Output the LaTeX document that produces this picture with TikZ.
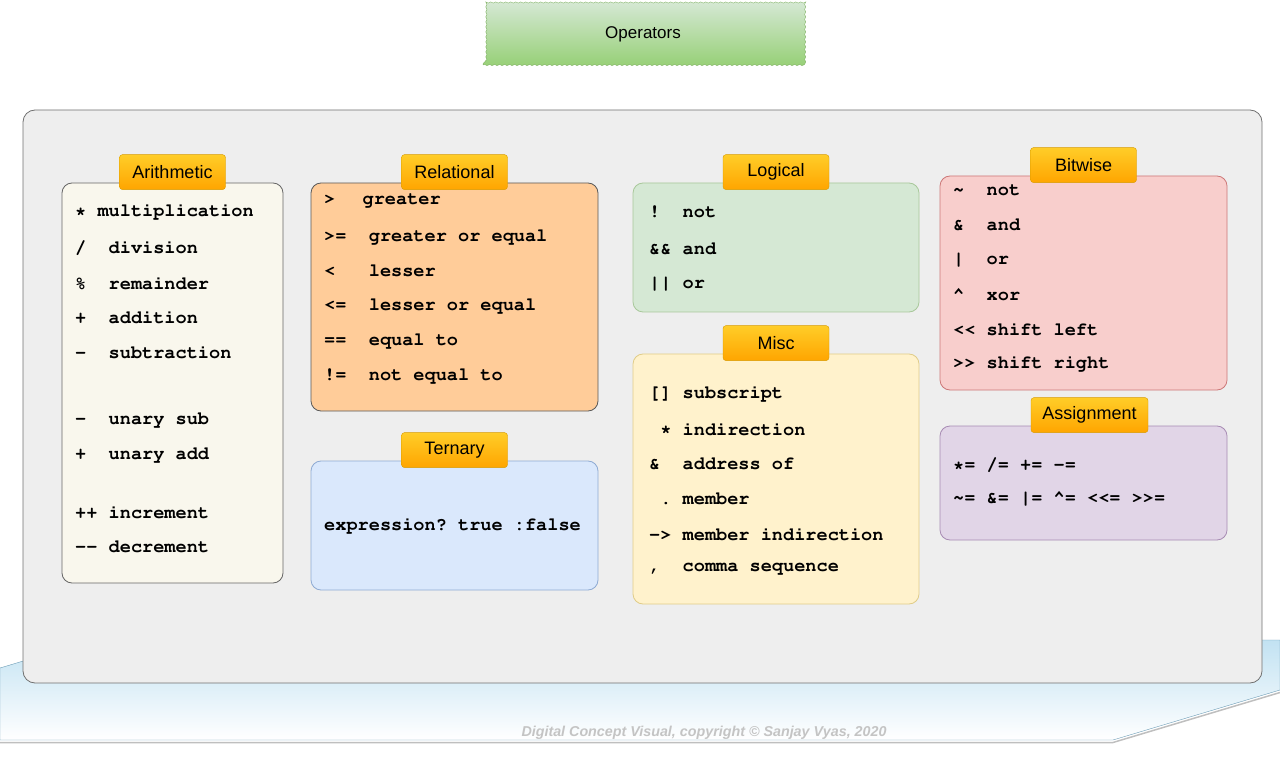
\documentclass[tikz,border=0pt]{standalone}
\usepackage[T1]{fontenc}
\usepackage{fontspec}
\setmainfont{Liberation Sans}
\usetikzlibrary{decorations.pathmorphing}

\definecolor{framefill}{HTML}{EEEEEE}
\definecolor{frameline}{HTML}{707070}
\definecolor{basetop}{HTML}{C2E2F2}
\definecolor{baseline}{HTML}{6A9BB5}
\definecolor{titletop}{HTML}{D5E8D4}
\definecolor{titlebot}{HTML}{97D077}
\definecolor{titleline}{HTML}{82B366}
\definecolor{tagtop}{HTML}{FFCD28}
\definecolor{tagbot}{HTML}{FFA500}
\definecolor{tagline}{HTML}{D79B00}
\definecolor{footgray}{HTML}{C4C4C4}
\definecolor{arithfill}{HTML}{F9F7ED}
\definecolor{relfill}{HTML}{FFCC99}
\definecolor{ternfill}{HTML}{DAE8FC}
\definecolor{ternline}{HTML}{8EAAD3}
\definecolor{logicfill}{HTML}{D5E8D4}
\definecolor{logicline}{HTML}{A8C89A}
\definecolor{miscfill}{HTML}{FFF2CC}
\definecolor{miscline}{HTML}{E0CC88}
\definecolor{bitfill}{HTML}{F8CECC}
\definecolor{bitline}{HTML}{CC7777}
\definecolor{assignfill}{HTML}{E1D5E7}
\definecolor{assignline}{HTML}{A78BB3}

\newcommand{\codefont}{\fontencoding{T1}\fontfamily{pcr}\fontseries{b}\fontsize{18.6}{20}\selectfont\frenchspacing}

\tikzset{
  panel/.style={rounded corners=10pt, line width=0.8pt, minimum width=287pt, inner sep=0pt},
  tag/.style={draw=tagline, rounded corners=3pt, top color=tagtop, bottom color=tagbot,
    minimum width=106pt, minimum height=35pt, inner sep=0pt, font=\fontsize{18}{20}\selectfont},
  op/.style={anchor=west, inner sep=0pt, font=\codefont},
}

\begin{document}
\begin{tikzpicture}[x=1pt, y=-1pt]
    \useasboundingbox (0,0) rectangle (1280,759);

    % blue base
    \draw[black!25, line width=1.5pt] (0,742.5) -- (1113,742.5) -- (1280,692.5);
    \path[draw=baseline, top color=basetop, bottom color=white]
        (0,668) -- (93,640) -- (1280,640) -- (1280,690) -- (1113,740) -- (0,740) -- cycle;

    % frame and title
    \node[draw=frameline, fill=framefill, rounded corners=12pt, line width=0.8pt,
          minimum width=1239pt, minimum height=573pt] (frame) at (642.5,396.5) {};
    \node[draw=titleline, top color=titletop, bottom color=titlebot,
          minimum width=320pt, minimum height=62pt, font=\fontsize{17}{20}\selectfont,
          decorate, decoration={snake, amplitude=0.6pt, segment length=5pt}] (title) at (643,34) {Operators};

    % panels
    \node[panel, draw=black!60, fill=arithfill, minimum width=221pt, minimum height=400pt] (arith) at (172.5,383) {};
    \node[panel, draw=black!65, fill=relfill, minimum height=228pt] (rel) at (454.5,297) {};
    \node[panel, draw=ternline, fill=ternfill, minimum height=129pt] (tern) at (454.5,525.5) {};
    \node[panel, draw=logicline, fill=logicfill, minimum width=286pt, minimum height=129pt] (logic) at (776,247.5) {};
    \node[panel, draw=miscline, fill=miscfill, minimum width=286pt, minimum height=250pt] (misc) at (776,479) {};
    \node[panel, draw=bitline, fill=bitfill, minimum height=214pt] (bit) at (1083.5,283) {};
    \node[panel, draw=assignline, fill=assignfill, minimum height=114pt] (assign) at (1083.5,483) {};

    % tags
    \node[tag] (arith-tag) at ([yshift=10.5pt]arith.north) {Arithmetic};
    \node[tag] (rel-tag) at ([yshift=10.5pt]rel.north) {Relational};
    \node[tag] (tern-tag) at ([yshift=10.5pt]tern.north) {Ternary};
    \node[tag] (logic-tag) at ([yshift=10.5pt]logic.north) {Logical};
    \node[tag] (misc-tag) at ([yshift=10.5pt]misc.north) {Misc};
    \node[tag] (bit-tag) at ([yshift=10.5pt]bit.north) {Bitwise};
    \node[tag, minimum width=117pt] (assign-tag) at ([xshift=6pt,yshift=10.5pt]assign.north) {Assignment};

    % arithmetic
    \node[op] (ar1) at (75,212) {*\ multiplication};
    \node[op] (ar2) at (75,248) {/\ \ division};
    \node[op] (ar3) at (75,283) {\%\ \ remainder};
    \node[op] (ar4) at (75,317) {+\ \ addition};
    \node[op] (ar5) at (75,352) {-\ \ subtraction};
    \node[op] (ar6) at (75,420) {-\ \ unary sub};
    \node[op] (ar7) at (75,455) {+\ \ unary add};
    \node[op] (ar8) at (75,512) {++ increment};
    \node[op] (ar9) at (75,547) {-{}- decrement};

    % relational
    \node[op] (re1) at (324,201) {>\ \ \hspace{5pt}greater};
    \node[op] (re2) at (324,237) {>=\ \ greater or equal};
    \node[op] (re3) at (324,271) {<\ \ \ lesser};
    \node[op] (re4) at (324,306) {<=\ \ lesser or equal};
    \node[op] (re5) at (324,341) {==\ \ equal to};
    \node[op] (re6) at (324,376) {!=\ \ not equal to};

    % ternary
    \node[op] (te1) at (324,526) {expression? true :false};

    % logical
    \node[op] (lo1) at (649,213) {!\ \ not};
    \node[op] (lo2) at (649,249) {\&\& and};
    \node[op] (lo3) at (649,284) {|| or};

    % misc
    \node[op] (mi1) at (649,394) {[] subscript};
    \node[op] (mi2) at (649,429) {\ * indirection};
    \node[op] (mi3) at (649,464) {\&\ \ address of};
    \node[op] (mi4) at (649,499) {\ . member};
    \node[op] (mi5) at (649,534) {-> member indirection};
    \node[op] (mi6) at (649,569) {,\ \ comma sequence};

    % bitwise
    \node[op] (bi1) at (953,191) {\textasciitilde\ \ not};
    \node[op] (bi2) at (953,225) {\&\ \ and};
    \node[op] (bi3) at (953,260) {|\ \ or};
    \node[op] (bi4) at (953,295) {\textasciicircum\ \ xor};
    \node[op] (bi5) at (953,329) {<{}< shift left};
    \node[op] (bi6) at (953,364) {>{}> shift right};

    % assignment
    \node[op] (as1) at (953,465) {*= /= += -=};
    \node[op] (as2) at (953,499) {\textasciitilde= \&= |= \textasciicircum= <{}<= >{}>=};

    \node[text=footgray, font=\bfseries\itshape\fontsize{14.3}{16}\selectfont] (credit) at (704,733)
        {Digital Concept Visual, copyright © Sanjay Vyas, 2020};
\end{tikzpicture}
\end{document}
